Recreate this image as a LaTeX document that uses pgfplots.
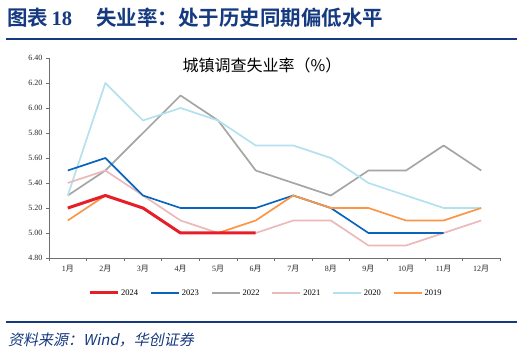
\documentclass[border=0pt]{standalone}
\usepackage{fontspec}
\usepackage{pgfplots}
\pgfplotsset{compat=1.18}
\setmainfont{Liberation Serif}
\newfontfamily\cjk{Noto Sans CJK SC}
\newfontfamily\cjkb{Noto Sans CJK SC Bold}
\newfontfamily\cjkit[FakeSlant=0.2]{Noto Sans CJK SC}
\definecolor{hdblue}{RGB}{22,58,128}
\definecolor{c2024}{RGB}{230,30,40}
\definecolor{c2023}{RGB}{10,100,190}
\definecolor{c2022}{RGB}{165,165,165}
\definecolor{c2021}{RGB}{235,185,185}
\definecolor{c2020}{RGB}{180,225,238}
\definecolor{c2019}{RGB}{250,150,70}
\definecolor{axgray}{RGB}{110,110,110}
\newcommand{\yue}{{\cjk 月}}
\begin{document}
\begin{tikzpicture}
\path[use as bounding box] (0pt,0pt) rectangle (524pt,353pt);
% heading
\node[anchor=base west, text=hdblue, inner sep=0pt] at (7pt,327pt) {\fontsize{20.5}{22}\selectfont\cjkb 图表\,{\bfseries\rmfamily 18}\hspace{24pt}失业率：处于历史同期偏低水平};
\draw[hdblue, line width=2pt] (6pt,314pt) -- (517pt,314pt);
\draw[hdblue, line width=1.6pt] (6pt,31pt) -- (517pt,31pt);
\node[anchor=base west, text=hdblue, inner sep=0pt] at (8pt,8pt) {\fontsize{15}{17}\selectfont\cjkit 资料来源：{\itshape Wind}，华创证券};
% chart title
\node[anchor=center, inner sep=0pt] at (262pt,288pt) {\fontsize{16}{18}\selectfont\cjk 城镇调查失业率（\%）};
\begin{axis}[
  at={(49pt,95pt)}, anchor=south west,
  scale only axis, width=451pt, height=200pt,
  xmin=0.5, xmax=12.5, ymin=4.8, ymax=6.4,
  axis x line*=bottom, axis y line*=left,
  axis line style={axgray, line width=0.6pt},
  xtick={0.5,1.5,...,12.5},
  x tick label as interval,
  xticklabels={1\yue,2\yue,3\yue,4\yue,5\yue,6\yue,7\yue,8\yue,9\yue,10\yue,11\yue,12\yue},
  ytick={4.8,5.0,...,6.4},
  /pgf/number format/assume math mode=true,
  yticklabel style={/pgf/number format/fixed, /pgf/number format/fixed zerofill, /pgf/number format/precision=2},
  tick label style={font=\fontsize{8}{9}\selectfont, text=black!85},
  major tick length=3pt,
  tick align=outside,
  tick style={axgray, line width=0.6pt},
  x tick label style={yshift=-1pt},
  legend columns=6,
  legend style={at={(0.481,-0.175)}, anchor=center, draw=none, fill=none,
    font=\fontsize{8.5}{10}\selectfont, /tikz/every even column/.append style={column sep=10pt}},
  legend image code/.code={\draw[#1] (0pt,0pt) -- (28pt,0pt);},
  every axis plot/.append style={line width=1.7pt, line join=round},
]
\addlegendimage{c2024, line width=3pt}
\addlegendentry{2024}
\addlegendimage{c2023, line width=1.7pt}
\addlegendentry{2023}
\addlegendimage{c2022, line width=1.7pt}
\addlegendentry{2022}
\addlegendimage{c2021, line width=1.7pt}
\addlegendentry{2021}
\addlegendimage{c2020, line width=1.7pt}
\addlegendentry{2020}
\addlegendimage{c2019, line width=1.7pt}
\addlegendentry{2019}
\addplot[c2022, forget plot] coordinates {(1,5.3)(2,5.5)(3,5.8)(4,6.1)(5,5.9)(6,5.5)(7,5.4)(8,5.3)(9,5.5)(10,5.5)(11,5.7)(12,5.5)};
\addplot[c2020, forget plot] coordinates {(1,5.3)(2,6.2)(3,5.9)(4,6.0)(5,5.9)(6,5.7)(7,5.7)(8,5.6)(9,5.4)(10,5.3)(11,5.2)(12,5.2)};
\addplot[c2021, forget plot] coordinates {(1,5.4)(2,5.5)(3,5.3)(4,5.1)(5,5.0)(6,5.0)(7,5.1)(8,5.1)(9,4.9)(10,4.9)(11,5.0)(12,5.1)};
\addplot[c2023, forget plot] coordinates {(1,5.5)(2,5.6)(3,5.3)(4,5.2)(5,5.2)(6,5.2)(7,5.3)(8,5.2)(9,5.0)(10,5.0)(11,5.0)};
\addplot[c2019, forget plot] coordinates {(1,5.1)(2,5.3)(3,5.2)(4,5.0)(5,5.0)(6,5.1)(7,5.3)(8,5.2)(9,5.2)(10,5.1)(11,5.1)(12,5.2)};
\addplot[c2024, line width=3pt, forget plot] coordinates {(1,5.2)(2,5.3)(3,5.2)(4,5.0)(5,5.0)(6,5.0)};
\end{axis}
\end{tikzpicture}
\end{document}
